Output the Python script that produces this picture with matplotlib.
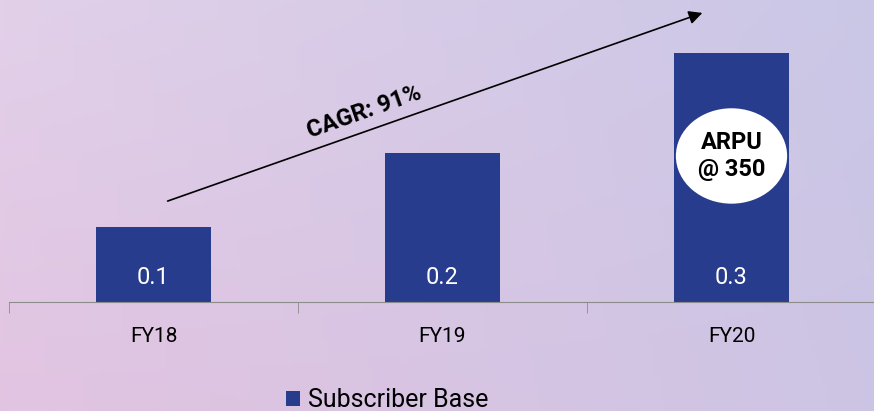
import numpy as np
import matplotlib
matplotlib.use("Agg")
import matplotlib.pyplot as plt
from matplotlib.patches import Ellipse, FancyArrowPatch

# data
years = ["FY18", "FY19", "FY20"]
subscribers = [0.09, 0.18, 0.30]
series_name = "Subscriber Base"
cagr_text = "CAGR: 91%"
arpu_text = "ARPU\n@ 350"

bar_color = "#273c8c"

plt.rcParams["font.family"] = ["Roboto", "DejaVu Sans"]

fig = plt.figure(figsize=(8.74, 4.11), dpi=100)

# background gradient (pink-lavender on the left, bluish lavender on the right)
bg = fig.add_axes([0, 0, 1, 1])
tl = np.array([226, 208, 233]) / 255
tr = np.array([202, 199, 230]) / 255
bl = np.array([226, 196, 225]) / 255
br = np.array([205, 196, 228]) / 255
u = np.linspace(0, 1, 200)[None, :, None]
v = np.linspace(0, 1, 100)[:, None, None]
img = (1 - v) * ((1 - u) * tl + u * tr) + v * ((1 - u) * bl + u * br)
bg.imshow(img, aspect="auto", extent=[0, 1, 0, 1], origin="upper")
bg.set_axis_off()

ax = fig.add_axes([9 / 874, 109 / 411, 867 / 874, 302 / 411])
ax.patch.set_alpha(0)
x = np.arange(len(years))
bars = ax.bar(x, subscribers, width=0.4, color=bar_color, label=series_name)
ax.set_xlim(-0.5, 2.5)
ax.set_ylim(0, 0.364)

for xi, val in zip(x, subscribers):
    ax.text(xi, 0.03, f"{val:.1f}", ha="center", va="center",
            color="white", fontsize=17)

for side in ["top", "right", "left"]:
    ax.spines[side].set_visible(False)
ax.spines["bottom"].set_color("#8c8c8c")
ax.set_yticks([])
ax.set_xticks(x)
ax.set_xticklabels(years, fontsize=15)
ax.tick_params(axis="x", which="major", length=0, pad=18)
ax.set_xticks([-0.5, 0.5, 1.5, 2.5], minor=True)
ax.tick_params(axis="x", which="minor", length=8, color="#8c8c8c")

# ARPU bubble on FY20 bar
ell = Ellipse((2, 0.176), 0.385, 0.115, facecolor="white", edgecolor="none")
ax.add_patch(ell)
ax.text(2, 0.176, arpu_text, ha="center", va="center", fontsize=17,
        fontweight="bold", color="black", linespacing=1.2)

# CAGR arrow
fig.add_artist(FancyArrowPatch(
    (165 / 874, 1 - 202 / 411), (705 / 874, 1 - 12 / 411),
    transform=fig.transFigure, arrowstyle="-|>", mutation_scale=20,
    lw=1.2, color="black"))
fig.text(364 / 874, 1 - 112 / 411, cagr_text, rotation=19.4,
         rotation_mode="anchor", ha="center", va="center",
         fontsize=17, fontweight="bold", color="black")

fig.legend(handles=[bars], labels=[series_name], loc="center",
           bbox_to_anchor=(0.443, 1 - 400 / 411), frameon=False,
           fontsize=18, handlelength=0.55, handleheight=0.55,
           handletextpad=0.3)

fig.savefig("out.png", dpi=100)
